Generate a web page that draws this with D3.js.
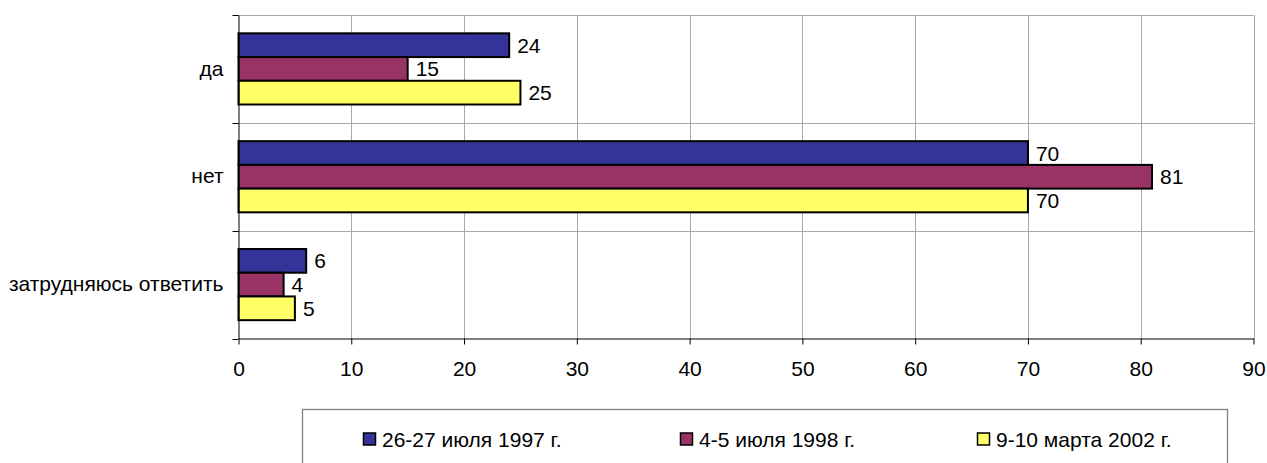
<!DOCTYPE html>
<html>
<head>
<meta charset="utf-8">
<script src="https://cdn.jsdelivr.net/npm/d3@7"></script>
<style>
  body { margin: 0; background: #fff; }
  text { font-family: "Liberation Sans", Arial, sans-serif; fill: #000; }
</style>
</head>
<body>
<svg id="chart" width="1267" height="463"></svg>
<script>
// Survey answers, percent of respondents
const categories = ["да", "нет", "затрудняюсь ответить"];
const seriesNames = ["26-27 июля 1997 г.", "4-5 июля 1998 г.", "9-10 марта 2002 г."];
const values1997 = [24, 70, 6];
const values1998 = [15, 81, 4];
const values2002 = [25, 70, 5];
const xTicks = [0, 10, 20, 30, 40, 50, 60, 70, 80, 90];

const seriesValues = [values1997, values1998, values2002];
const seriesColors = ["#333399", "#993366", "#FFFF66"];

const svg = d3.select("#chart");
svg.append("rect").attr("width", 1267).attr("height", 463).attr("fill", "#fff");

const plot = { left: 238.5, right: 1253.5, top: 15, bottom: 338.5 };
const fontSize = 21;

const x = d3.scaleLinear().domain([0, 90]).range([plot.left, plot.right]);
const y = d3.scaleBand().domain(categories).range([plot.top, plot.bottom])
  .paddingInner(0.34).paddingOuter(0.17);
const ySeries = d3.scaleBand().domain(seriesNames).range([0, y.bandwidth()]);

// gridlines
const grid = svg.append("g").attr("stroke", "#a8a8a8").attr("stroke-width", 1);
grid.selectAll("line.v").data(xTicks.slice(1)).join("line")
  .attr("x1", d => Math.round(x(d)) + 0.5).attr("x2", d => Math.round(x(d)) + 0.5)
  .attr("y1", plot.top).attr("y2", plot.bottom);
grid.selectAll("line.h").data(categories).join("line")
  .attr("x1", plot.left).attr("x2", plot.right)
  .attr("y1", (d, i) => Math.round(plot.top + i * y.step()) + 0.5)
  .attr("y2", (d, i) => Math.round(plot.top + i * y.step()) + 0.5);

// bars
const table = categories.map((c, ci) => seriesNames.map((s, si) => ({ c, s, si, v: seriesValues[si][ci] })));
const groups = svg.append("g").selectAll("g").data(table).join("g")
  .attr("transform", (d, i) => `translate(0,${y(categories[i])})`);
groups.selectAll("rect").data(d => d).join("rect")
  .attr("x", x(0))
  .attr("y", d => ySeries(d.s))
  .attr("width", d => x(d.v) - x(0))
  .attr("height", ySeries.bandwidth())
  .attr("fill", d => seriesColors[d.si])
  .attr("stroke", "#000").attr("stroke-width", 2);
groups.selectAll("text").data(d => d).join("text")
  .attr("x", d => x(d.v) + 8)
  .attr("y", d => ySeries(d.s) + ySeries.bandwidth() / 2)
  .attr("dy", "0.36em")
  .attr("font-size", fontSize)
  .text(d => d.v);

// x axis
const xAxis = svg.append("g").attr("transform", `translate(0,${plot.bottom})`)
  .call(d3.axisBottom(x).tickValues(xTicks).tickSize(6).tickPadding(17).tickSizeOuter(0));
xAxis.select(".domain").attr("stroke", "#000");
xAxis.selectAll(".tick line").attr("stroke", "#000");
xAxis.selectAll("text").attr("font-size", fontSize).attr("font-family", null);

// y axis with ticks at category boundaries
const yAxis = svg.append("g").attr("transform", `translate(${plot.left},0)`)
  .call(d3.axisLeft(y).tickSize(0).tickPadding(15).tickSizeOuter(0));
yAxis.select(".domain").attr("stroke", "#000");
yAxis.selectAll("text").attr("font-size", fontSize).attr("font-family", null);
yAxis.selectAll("line.b").data(d3.range(categories.length + 1)).join("line")
  .attr("class", "b")
  .attr("x1", -6).attr("x2", 0)
  .attr("y1", i => Math.round(plot.top + i * y.step()) + 0.5)
  .attr("y2", i => Math.round(plot.top + i * y.step()) + 0.5)
  .attr("stroke", "#000");

// legend
const legend = svg.append("g");
legend.append("rect").attr("x", 302.5).attr("y", 409.5).attr("width", 925).attr("height", 70)
  .attr("fill", "#fff").attr("stroke", "#808080").attr("stroke-width", 1.3);
const legendX = [363, 680, 977];
const items = legend.selectAll("g.item").data(seriesNames).join("g")
  .attr("class", "item")
  .attr("transform", (d, i) => `translate(${legendX[i]},439)`);
items.append("rect").attr("x", 0.5).attr("y", -6).attr("width", 12).attr("height", 12)
  .attr("fill", (d, i) => seriesColors[i]).attr("stroke", "#000").attr("stroke-width", 1.5);
items.append("text").attr("x", 19).attr("dy", "0.36em").attr("font-size", fontSize).text(d => d);
</script>
</body>
</html>
